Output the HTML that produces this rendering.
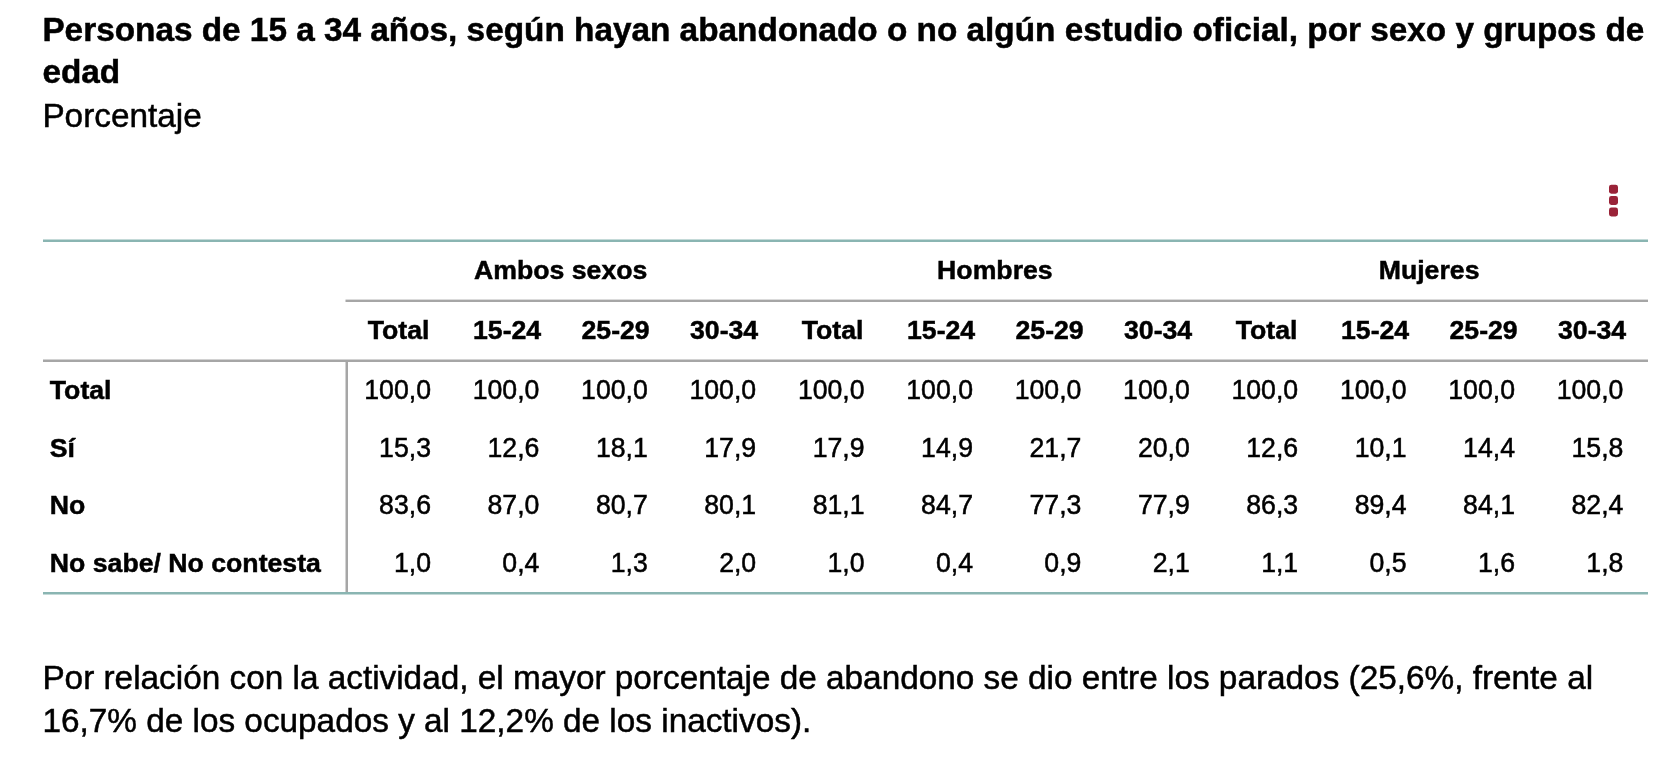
<!DOCTYPE html>
<html><head><meta charset="utf-8">
<style>
html,body{margin:0;padding:0;background:#fff;}
body{width:1670px;height:781px;overflow:hidden;position:relative;font-family:"Liberation Sans",sans-serif;color:#000;-webkit-text-stroke:0.5px #000;}
.title,.sub,.para,.row{will-change:opacity;}
.title{position:absolute;left:42.4px;top:9.2px;width:1625px;font-size:33.33px;line-height:41.67px;font-weight:bold;}
.sub{position:absolute;left:42.4px;top:93.5px;font-size:33.33px;line-height:43.33px;}
.para{position:absolute;left:42.4px;top:655.5px;width:1625px;font-size:33.33px;line-height:43.33px;}
svg.lines{position:absolute;left:0;top:0;}
.row{position:absolute;left:0;width:1670px;height:30px;font-size:26.67px;line-height:30px;white-space:nowrap;}
.row span{position:absolute;top:0;display:block;}
.b{font-weight:bold;}
.c{text-align:center;}
.d{text-align:right;transform:scaleY(1.055);transform-origin:0 24px;}
</style></head><body>
<div class="title">Personas de 15 a 34 años, según hayan abandonado o no algún estudio oficial, por sexo y grupos de edad</div>
<div class="sub">Porcentaje</div>
<svg class="lines" width="1670" height="781" viewBox="0 0 1670 781">
<rect x="43" y="239.5" width="1605" height="2.5" fill="#8ab5b2"/>
<rect x="345.5" y="299.6" width="1302.5" height="2.4" fill="#a6a6a6"/>
<rect x="43" y="359.5" width="1605" height="2.5" fill="#a6a6a6"/>
<rect x="345.5" y="361" width="2.5" height="231.5" fill="#a6a6a6"/>
<rect x="43" y="592" width="1605" height="2.5" fill="#8ab5b2"/>
<rect x="1609" y="184.7" width="9" height="9" rx="2.4" fill="#9a2338"/>
<rect x="1609" y="196" width="9" height="9" rx="2.4" fill="#9a2338"/>
<rect x="1609" y="207.5" width="9" height="9" rx="2.4" fill="#9a2338"/>
</svg>
<div class="row b" style="top:254.80px"><span class="c" style="left:343.90px;width:433.60px">Ambos sexos</span><span class="c" style="left:778.10px;width:433.60px">Hombres</span><span class="c" style="left:1212.30px;width:433.60px">Mujeres</span></div>
<div class="row b" style="top:315.10px"><span class="c" style="left:344.40px;width:108.40px">Total</span><span class="c" style="left:452.90px;width:108.40px">15-24</span><span class="c" style="left:561.40px;width:108.40px">25-29</span><span class="c" style="left:669.90px;width:108.40px">30-34</span><span class="c" style="left:778.40px;width:108.40px">Total</span><span class="c" style="left:886.90px;width:108.40px">15-24</span><span class="c" style="left:995.40px;width:108.40px">25-29</span><span class="c" style="left:1103.90px;width:108.40px">30-34</span><span class="c" style="left:1212.40px;width:108.40px">Total</span><span class="c" style="left:1320.90px;width:108.40px">15-24</span><span class="c" style="left:1429.40px;width:108.40px">25-29</span><span class="c" style="left:1537.90px;width:108.40px">30-34</span></div>
<div class="row " style="top:374.90px"><span class="b" style="left:49.8px">Total</span><span class="d" style="left:331.00px;width:100px">100,0</span><span class="d" style="left:439.40px;width:100px">100,0</span><span class="d" style="left:547.80px;width:100px">100,0</span><span class="d" style="left:656.20px;width:100px">100,0</span><span class="d" style="left:764.60px;width:100px">100,0</span><span class="d" style="left:873.00px;width:100px">100,0</span><span class="d" style="left:981.40px;width:100px">100,0</span><span class="d" style="left:1089.80px;width:100px">100,0</span><span class="d" style="left:1198.20px;width:100px">100,0</span><span class="d" style="left:1306.60px;width:100px">100,0</span><span class="d" style="left:1415.00px;width:100px">100,0</span><span class="d" style="left:1523.40px;width:100px">100,0</span></div>
<div class="row " style="top:432.50px"><span class="b" style="left:49.8px">Sí</span><span class="d" style="left:331.00px;width:100px">15,3</span><span class="d" style="left:439.40px;width:100px">12,6</span><span class="d" style="left:547.80px;width:100px">18,1</span><span class="d" style="left:656.20px;width:100px">17,9</span><span class="d" style="left:764.60px;width:100px">17,9</span><span class="d" style="left:873.00px;width:100px">14,9</span><span class="d" style="left:981.40px;width:100px">21,7</span><span class="d" style="left:1089.80px;width:100px">20,0</span><span class="d" style="left:1198.20px;width:100px">12,6</span><span class="d" style="left:1306.60px;width:100px">10,1</span><span class="d" style="left:1415.00px;width:100px">14,4</span><span class="d" style="left:1523.40px;width:100px">15,8</span></div>
<div class="row " style="top:490.10px"><span class="b" style="left:49.8px">No</span><span class="d" style="left:331.00px;width:100px">83,6</span><span class="d" style="left:439.40px;width:100px">87,0</span><span class="d" style="left:547.80px;width:100px">80,7</span><span class="d" style="left:656.20px;width:100px">80,1</span><span class="d" style="left:764.60px;width:100px">81,1</span><span class="d" style="left:873.00px;width:100px">84,7</span><span class="d" style="left:981.40px;width:100px">77,3</span><span class="d" style="left:1089.80px;width:100px">77,9</span><span class="d" style="left:1198.20px;width:100px">86,3</span><span class="d" style="left:1306.60px;width:100px">89,4</span><span class="d" style="left:1415.00px;width:100px">84,1</span><span class="d" style="left:1523.40px;width:100px">82,4</span></div>
<div class="row " style="top:547.70px"><span class="b" style="left:49.8px">No sabe/ No contesta</span><span class="d" style="left:331.00px;width:100px">1,0</span><span class="d" style="left:439.40px;width:100px">0,4</span><span class="d" style="left:547.80px;width:100px">1,3</span><span class="d" style="left:656.20px;width:100px">2,0</span><span class="d" style="left:764.60px;width:100px">1,0</span><span class="d" style="left:873.00px;width:100px">0,4</span><span class="d" style="left:981.40px;width:100px">0,9</span><span class="d" style="left:1089.80px;width:100px">2,1</span><span class="d" style="left:1198.20px;width:100px">1,1</span><span class="d" style="left:1306.60px;width:100px">0,5</span><span class="d" style="left:1415.00px;width:100px">1,6</span><span class="d" style="left:1523.40px;width:100px">1,8</span></div>
<div class="para">Por relación con la actividad, el mayor porcentaje de abandono se dio entre los parados (25,6%, frente al 16,7% de los ocupados y al 12,2% de los inactivos).</div>
</body></html>
